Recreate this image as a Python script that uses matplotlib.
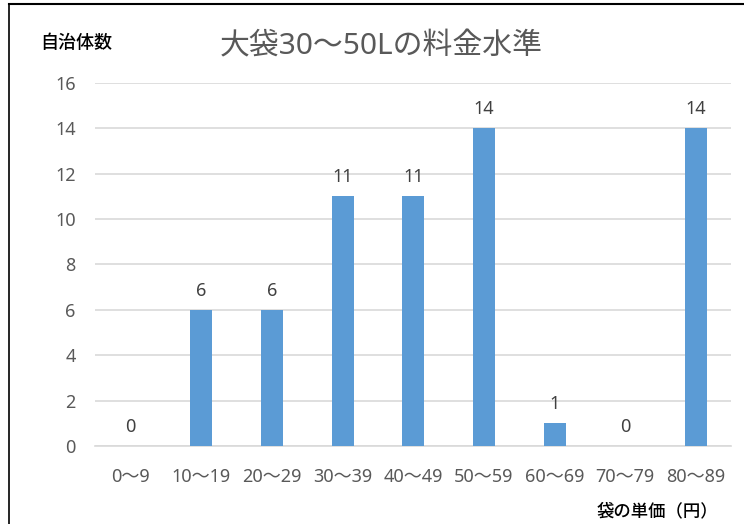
import matplotlib.pyplot as plt
from matplotlib.lines import Line2D

plt.rcParams['font.family'] = ['Noto Sans', 'Noto Sans CJK JP', 'DejaVu Sans']

categories = ["0～9", "10～19", "20～29", "30～39", "40～49", "50～59", "60～69", "70～79", "80～89"]
counts = [0, 6, 6, 11, 11, 14, 1, 0, 14]
yticks = [0, 2, 4, 6, 8, 10, 12, 14, 16]

fig = plt.figure(figsize=(7.44, 5.24), dpi=100)
ax = fig.add_axes([0.128, 0.149, 0.855, 0.693])

x = range(len(categories))
bars = ax.bar(x, counts, width=0.31, color="#5B9BD5", zorder=3)
for xi, v in zip(x, counts):
    ax.text(xi, v + 0.45, str(v), ha="center", va="bottom", fontsize=13, color="#404040")

ax.set_xlim(-0.5, len(categories) - 0.5)
ax.set_ylim(0, 16)
ax.set_yticks(yticks)
ax.set_xticks(list(x))
ax.set_xticklabels(categories)
ax.yaxis.grid(True, color="#D9D9D9", linewidth=1.2, zorder=0)
for s in ["top", "right", "left"]:
    ax.spines[s].set_visible(False)
ax.spines["bottom"].set_color("#D9D9D9")
ax.spines["bottom"].set_linewidth(1.2)
ax.tick_params(axis="both", length=0, labelsize=13, labelcolor="#595959")
ax.tick_params(axis="x", pad=16)
ax.tick_params(axis="y", pad=14)

fig.text(0.512, 0.91, "大袋30～50Lの料金水準", ha="center", va="center", fontsize=21.5, color="#595959")
fig.text(0.054, 0.918, "自治体数", ha="left", va="center", fontsize=13, color="#000000", fontweight="medium")
fig.text(0.966, 0.025, "袋の単価（円）", ha="right", va="center", fontsize=12.5, color="#000000", fontweight="medium")

fig.add_artist(Line2D([0.012, 1.0], [0.993, 0.993], color="black", linewidth=1.5))
fig.add_artist(Line2D([0.012, 0.012], [0.0, 0.993], color="black", linewidth=1.2))

fig.savefig("out.png", dpi=100)
